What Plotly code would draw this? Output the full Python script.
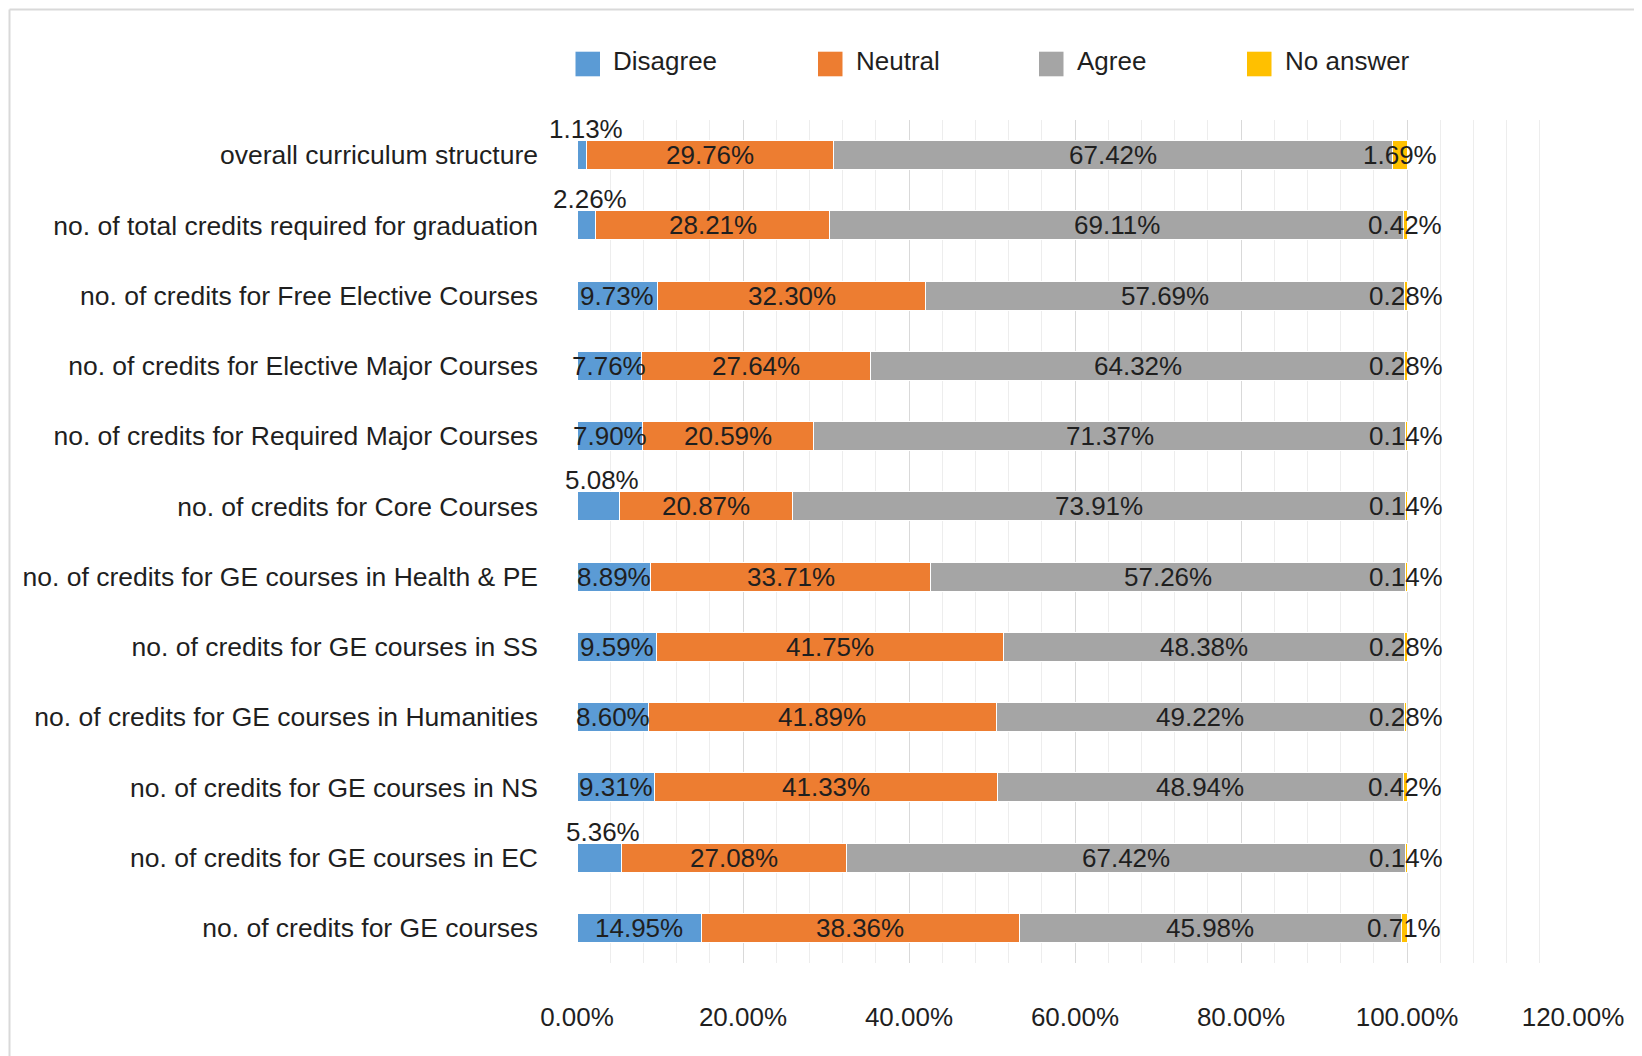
import plotly.graph_objects as go

categories = [
    "overall curriculum structure",
    "no. of total credits required for graduation",
    "no. of credits for Free Elective Courses",
    "no. of credits for Elective Major Courses",
    "no. of credits for Required Major Courses",
    "no. of credits for Core Courses",
    "no. of credits for GE courses in Health & PE",
    "no. of credits for GE courses in SS",
    "no. of credits for GE courses in Humanities",
    "no. of credits for GE courses in NS",
    "no. of credits for GE courses in EC",
    "no. of credits for GE courses",
]
disagree = [1.13, 2.26, 9.73, 7.76, 7.90, 5.08, 8.89, 9.59, 8.60, 9.31, 5.36, 14.95]
neutral = [29.76, 28.21, 32.30, 27.64, 20.59, 20.87, 33.71, 41.75, 41.89, 41.33, 27.08, 38.36]
agree = [67.42, 69.11, 57.69, 64.32, 71.37, 73.91, 57.26, 48.38, 49.22, 48.94, 67.42, 45.98]
no_answer = [1.69, 0.42, 0.28, 0.28, 0.14, 0.14, 0.14, 0.28, 0.28, 0.42, 0.14, 0.71]

series_names = ["Disagree", "Neutral", "Agree", "No answer"]
series_values = [disagree, neutral, agree, no_answer]
colors = ["#5B9BD5", "#ED7D31", "#A5A5A5", "#FFC000"]

W, H = 1642, 1056
OFF = 8  # page body margin offset
# target plot area in page pixels: x 577..1573, y 120..963
PX0, PX1, PY0, PY1 = 577, 1573, 120, 963
ML = PX0 - OFF
MT = PY0 - OFF
MR = W - (PX1 - OFF)
MB = H - (PY1 - OFF)
PW, PH = PX1 - PX0, PY1 - PY0

def px_x(px):
    return (px - PX0) / PW

def px_y(py):
    return (PY1 - py) / PH

FONT = "Liberation Sans, Arial, Helvetica, sans-serif"
TXT = "#1f1f1f"

fig = go.Figure()
for name, vals, col in zip(series_names, series_values, colors):
    fig.add_trace(go.Bar(
        name=name, y=categories, x=vals, orientation="h",
        marker=dict(color=col, line=dict(color="white", width=1)),
        width=0.41, showlegend=False, hoverinfo="x+y+name",
    ))

annotations = []
for i, cat in enumerate(categories):
    base = 0.0
    for s, vals in enumerate(series_values):
        v = vals[i]
        mid = base + v / 2
        above = (s == 0 and v < 6)
        annotations.append(dict(
            x=mid, y=cat, xref="x", yref="y",
            text=f"{v:.2f}%", showarrow=False,
            font=dict(family=FONT, size=26, color=TXT),
            xanchor="center", yanchor="middle",
            yshift=26 if above else 0, xshift=4 if above else 0,
        ))
        base += v

# manual legend
leg_sq_x = [575.5, 818, 1039, 1247]
leg_txt_x = [611, 854, 1075, 1283]
leg_cy = 64
shapes = []
for name, col, sx, tx in zip(series_names, colors, leg_sq_x, leg_txt_x):
    shapes.append(dict(type="rect", xref="paper", yref="paper",
                       x0=px_x(sx), x1=px_x(sx + 24.5),
                       y0=px_y(leg_cy + 12.3), y1=px_y(leg_cy - 12.3),
                       fillcolor=col, line=dict(width=0)))
    annotations.append(dict(x=px_x(tx), y=px_y(leg_cy - 3), xref="paper", yref="paper",
                            text=name, showarrow=False, xanchor="left", yanchor="middle",
                            font=dict(family=FONT, size=26, color=TXT)))

# chart frame (top and left edges visible)
shapes.append(dict(type="line", xref="paper", yref="paper",
                   x0=px_x(9.5), x1=px_x(W + 20), y0=px_y(9.5), y1=px_y(9.5),
                   line=dict(color="#d9d9d9", width=2)))
shapes.append(dict(type="line", xref="paper", yref="paper",
                   x0=px_x(9.5), x1=px_x(9.5), y0=px_y(9.5), y1=px_y(H + 20),
                   line=dict(color="#d9d9d9", width=2)))

fig.update_layout(
    width=W, height=H,
    margin=dict(l=ML, r=MR, t=MT, b=MB, pad=0),
    barmode="stack", bargap=0.59,
    plot_bgcolor="white", paper_bgcolor="white",
    font=dict(family=FONT, size=26, color=TXT),
    annotations=annotations, shapes=shapes,
    xaxis=dict(
        range=[0, 120], dtick=20, tick0=0,
        tickformat=".2f", ticksuffix="%",
        showgrid=True, gridcolor="#d9d9d9", gridwidth=1,
        minor=dict(dtick=4, tick0=0, showgrid=True, gridcolor="#ededed", gridwidth=1),
        zeroline=False, showline=False, ticks="",
        ticklabelstandoff=36,
        tickfont=dict(family=FONT, size=26, color=TXT),
        fixedrange=True,
    ),
    yaxis=dict(
        autorange="reversed", showgrid=False, zeroline=False, showline=False,
        ticks="", ticklabelstandoff=38,
        tickfont=dict(family=FONT, size=26.5, color=TXT),
        fixedrange=True,
    ),
)

fig.write_html("out.html")
